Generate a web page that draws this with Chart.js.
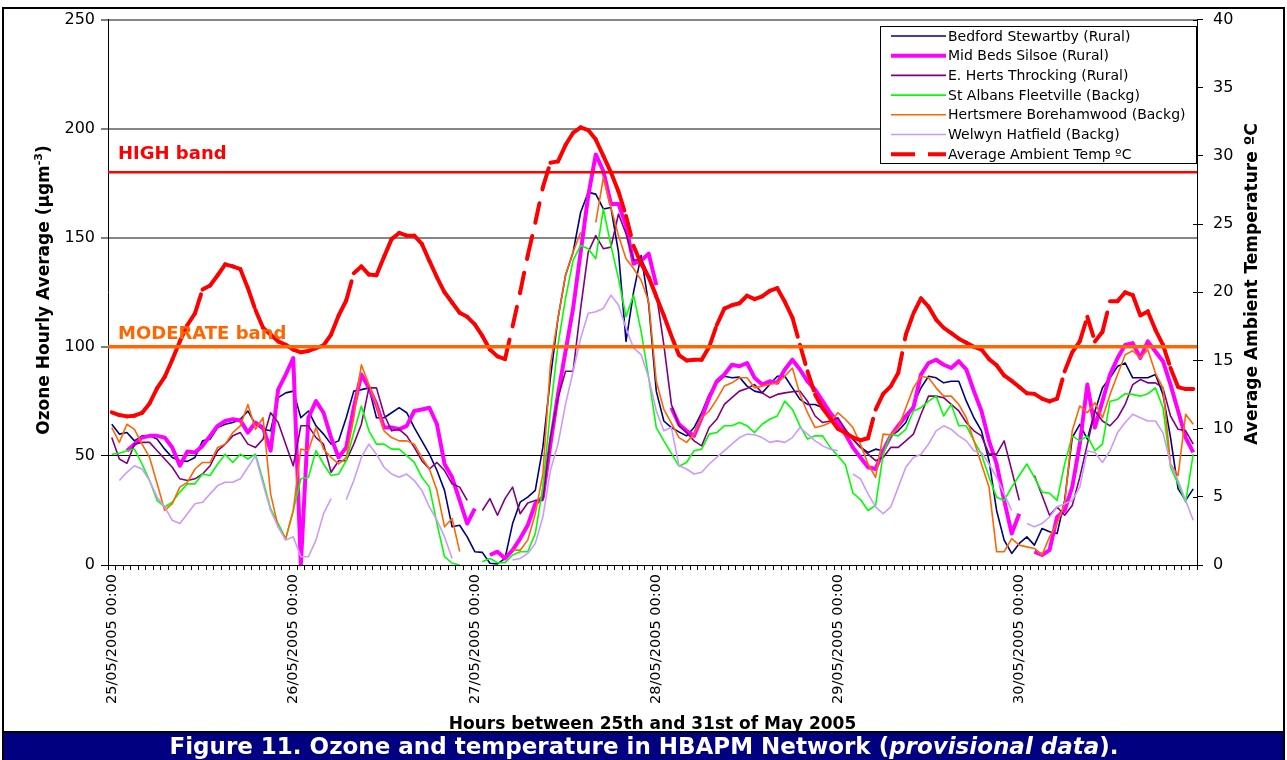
<!DOCTYPE html>
<html>
<head>
<meta charset="utf-8">
<script src="https://cdn.jsdelivr.net/npm/chart.js@4.4.1/dist/chart.umd.min.js"></script>
<style>
  html, body { margin: 0; padding: 0; background: #fff; overflow: hidden; }
  canvas { display: block; }
</style>
</head>
<body>
<canvas id="c" width="1287" height="760"></canvas>
<script>
// ---- categories: one per hour, 25/05/2005 00:00 .. 30/05/2005 23:00 ----
const dayLabels = ['25/05/2005', '26/05/2005', '27/05/2005', '28/05/2005', '29/05/2005', '30/05/2005'];
const hourLabels = [];
for (const d of dayLabels) {
  for (let h = 0; h < 24; h++) hourLabels.push(d + ' ' + String(h).padStart(2, '0') + ':00');
}

// ---- ozone hourly averages (ugm-3) ----
const bedford = [
  64.5,60,60.7,56.9,59.2,59.2,57.7,53.1,49.3,47.8,
  47.5,49.3,56.9,57.7,63,64.5,65.3,66.8,70.6,64.5,
  62.2,61.5,76.7,78.9,79.7,67.5,70.6,63.8,60,55.4,
  56.9,67.5,79.7,80.4,81.2,67.5,67.5,69.8,72.1,69.8,
  63,56.9,50.8,43.3,34.2,17.5,18.2,12.9,6.1,5.8,
  0.8,0.5,3,19,28.8,31.1,34.2,53.9,85.8,113,
  132.8,143.4,161.7,170.8,170,163.2,163.9,143.4,102.5,125.2,
  141.9,119.2,79.7,66,63,61,59.2,63,69.8,78.2,
  83.5,86.5,85.8,86.1,82,79.7,78.9,82.7,86.5,86.5,
  81.2,75.9,73.6,73.6,72.1,69.8,65.3,61.5,57.7,54,
  51.6,53.1,52.4,59.2,61.5,65.3,73.6,81.2,86.5,85.8,
  83.5,84.2,84.2,75.1,67.5,61.5,47.8,25,11.4,5.3,
  9.9,12.9,9.1,16.7,15.2,14.4,29.6,58.4,64.5,57.7,
  70.6,81.2,85.8,91.1,92.6,85.8,85.8,85.8,87.3,78.2,
  58.4,34.9,29.6,34.9
];
const midBeds = [
  null,null,52.4,55.4,58.4,59.2,59.2,58.4,53.9,45.5,
  52,51.6,54.6,59.2,63.8,66,66.8,66.3,60.7,65.3,
  63,52.4,80.4,87.3,94.9,0,67.5,75.1,69.8,58.4,
  49.3,53.9,72.1,87.3,81.2,73.6,63,63,62.2,63.8,
  70.6,71.3,72.1,64.5,46.3,40.2,29.6,19,25.8,null,
  4.6,6.1,3,6.8,12.1,18.2,28.1,31.1,55.4,78.2,
  97.9,117.6,143.4,169.2,188.2,180.6,165.5,165.5,155.6,138.1,
  139.6,142.7,128.3,null,72.1,64.5,61.5,59.2,67.5,76.7,
  84.2,87.3,91.8,91.1,92.6,85.8,82.7,84.2,83.5,89.6,
  94.1,89.6,84.2,80.4,75.1,69.8,65.3,60,53.9,49.3,
  44.8,44,52.4,59.2,63.8,68.3,72.1,87.3,92.6,94.1,
  91.8,90.3,93.4,89.6,79.7,70.6,56.9,46.3,29.6,14.4,
  23.5,null,6.1,4.6,6.8,22,25,35.7,55.4,82.7,
  63,75.1,87.3,94.9,100.9,101.7,94.9,102.5,97.9,93.4,
  82.7,70.6,58.4,51.6
];
const eHerts = [
  58.4,48.6,46.6,55.4,56.2,56.2,52.4,48.6,44.8,39.5,
  38.7,39.5,41.7,45.5,52.4,55.4,59.2,60.7,55.4,53.9,
  57.7,69.8,65.3,55.4,45.5,63.8,63.8,58.4,55.4,42.5,
  47.8,47.8,55.4,64.5,81.2,81.2,69.1,61.5,62.2,59.2,
  53.9,47.8,44,47,43.3,37.2,35.7,29.6,null,25,
  30.4,22.8,30.4,35.7,23.5,28.4,29.6,29.6,58.4,76.7,
  88.8,88.8,117.6,143.4,151,145,145.7,160.9,151.8,139.6,
  140.4,132.8,124.5,100.9,73.6,63.8,60.7,56.9,54.6,63,
  66.8,73.6,76.7,79.7,80.9,82.7,78.9,76.7,78.2,78.9,
  79.4,79.7,75.1,68.3,65.3,66,67.5,62.2,57.7,53.9,
  50.8,47.8,49.3,53.9,53.9,56.9,60,69.1,77.4,77.4,
  76.7,73.6,70.6,65.3,61.5,59.2,50.8,50.8,56.9,43.3,
  29.6,null,41,32,22.8,26.6,22.8,27.3,40.2,55.4,
  70.6,66,63.8,67.5,73.6,82.7,85,83.5,83.5,81.2,
  68.3,62.2,61.5,55.4
];
const stAlbans = [
  50.8,51.2,52.4,53.1,46.3,38.7,29.6,26.6,28.8,33.4,
  37.2,37.2,41.7,41,46.3,50.8,47,50.8,48.6,50.8,
  38.7,25.8,19,12.1,25,39.5,40.2,52.4,46.3,41,
  41.7,47.8,60.7,72.9,61.5,55.4,55.4,53.1,53.1,50.1,
  47,40.2,35.7,19,3.8,0.8,0,null,null,1.5,
  3,1.1,1.1,4.6,6.1,6.1,14.4,35.7,70.6,100.9,
  122.2,139.6,146.5,145,140.4,163.2,146.5,131.3,113.8,123.7,
  107,85.8,63,56.9,51.2,45.3,47,52.4,53.1,60,
  60.7,63.8,63.8,65.3,63.8,60.7,64.5,66.8,68.3,75.1,
  71.3,63.8,57.7,59.2,59.2,53.9,50.1,46,33,30,
  25,27.3,50.8,60,59.2,62.2,70.6,72.1,75.1,77.4,
  68.3,73.6,63.8,63.8,56.9,50.8,40.2,31.1,29.6,35.7,
  41,46.3,40.2,33.4,32.9,29.6,46.3,59.2,56.9,59.2,
  52.4,55.4,75.1,75.9,78.5,78.2,77.4,78.5,81.2,72.1,
  44.8,37.2,28.8,50.8
];
const hertsmere = [
  63,56.2,64.5,62.2,55.4,49.3,37.2,25,28.1,35.7,
  37.9,44,47,47,53.9,55.4,60.7,63.8,73.6,62.2,
  67.5,32.6,17.5,12.1,25,53.1,52.4,63,53.1,49.3,
  46.3,49.3,67.5,91.8,82.7,73.6,61.5,58.4,56.9,56.9,
  55.4,49.3,44,34.2,17.5,21.3,6.1,null,null,null,
  null,null,null,6.8,6.8,11.4,23.5,41.7,91.8,113,
  132.8,143.4,152.5,null,157.1,177.6,163.9,151,140.4,135.9,
  130.5,120.7,84.2,71.3,65,58.4,56.2,60,67.5,70.6,
  75.9,82,83.5,85.8,85.8,81.2,82,82.7,83.5,86.5,
  90.3,78.2,69.8,63,63.8,65.3,69.8,66.8,63,55.4,
  46.3,40.2,60,59.7,63,72.1,81.2,86.5,85.8,81.2,
  77.4,77.4,73.6,67.5,56.9,46.3,35.7,6.1,6.1,12.1,
  9.1,8.3,7.6,4.6,12.9,19,28.1,61.5,72.9,69.8,
  74.4,67.5,78.2,87.3,96.4,98.2,94.9,98.7,88,81.2,
  46.3,41,69.1,64.5
];
const welwyn = [
  null,38.7,42.5,45.5,44,38.7,31.1,26.6,20.5,19,
  23.5,28.1,28.8,32.6,36.4,37.9,37.9,39.5,44.8,50.1,
  37.2,25,17.5,11.4,12.9,3.8,3.8,11.4,23.5,30.4,
  null,29.9,38.7,49.3,55.4,50.8,44.8,41.7,40.2,41.7,
  38.7,34.2,26.6,20.5,12.9,3,null,null,null,null,
  null,null,null,2.3,3,5.3,9.9,22,43.3,55.4,
  73.6,88.8,104,115.4,116.1,117.6,123.7,119.2,108.5,99.4,
  96.4,85.8,70.6,61.5,63,45.5,44,41.7,42.5,46.3,
  49.3,52.4,55.4,58.4,60,59.7,58.4,56.2,56.9,56.2,
  58.4,63,60,56.9,54.6,53.1,52.4,null,41.7,39.5,
  32.6,26.6,23.5,26.6,35.7,44.8,49.3,50.8,55.4,61.5,
  63.8,62.2,59.2,56.9,52.4,51.6,46.3,40.2,32.6,25,
  null,19,17.5,19,22,26.6,28.1,29.6,35.7,52.4,
  51.6,47,52.4,60.7,65.3,69.1,67.5,66,66,60.7,
  46.3,38.7,29.6,20.5
];

// ---- average ambient temperature (deg C) ----
const temperature = [
  11.2,11.0,10.9,10.95,11.15,11.85,12.97,13.8,15.05,16.4,
  17.6,18.45,20.2,20.5,21.25,22.05,21.9,21.7,20.3,18.7,
  17.4,16.9,16.4,16.15,15.8,15.6,15.7,15.9,16.1,16.9,
  18.3,19.4,21.4,21.9,21.3,21.25,22.6,23.9,24.35,24.15,
  24.15,23.55,22.3,21.1,20.0,19.25,18.5,18.2,17.65,16.8,
  15.8,15.3,15.1,17.5,20.0,22.7,25.1,27.7,29.5,29.6,
  30.8,31.7,32.1,31.9,31.2,30.0,28.8,27.4,25.6,23.4,
  22.1,21.1,19.7,18.3,16.8,15.4,15.0,15.05,15.05,16.0,
  17.6,18.8,19.05,19.2,19.75,19.5,19.7,20.1,20.3,19.3,
  18.15,16.15,14.2,12.5,11.5,10.75,10.0,9.7,9.35,9.15,
  9.3,11.4,12.55,13.1,14.1,16.9,18.45,19.55,18.95,18.0,
  17.4,17.0,16.6,16.3,16.0,15.8,15.1,14.65,13.9,13.5,
  13.05,12.6,12.55,12.2,12.0,12.2,14.2,15.6,16.4,18.2,
  16.4,17.1,19.35,19.35,20.0,19.8,18.3,18.6,17.25,16.15,
  14.45,13.05,12.9,12.9
];

// ---- air quality band thresholds (ugm-3) ----
const HIGH_BAND = 180;
const MODERATE_BAND = 100;

// ---- axis ticks ----
const ozoneTicks = { min: 0, max: 250, step: 50 };
const tempTicks = { min: 0, max: 40, step: 5 };

const FONT = '"DejaVu Sans", Verdana, sans-serif';
Chart.defaults.font.family = FONT;
Chart.defaults.color = '#000';

function ozoneSet(label, data, color, width, order) {
  return { label, data, borderColor: color, backgroundColor: color, borderWidth: width,
           yAxisID: 'y', order, spanGaps: false, pointRadius: 0, tension: 0,
           borderJoinStyle: 'round' };
}

const datasets = [
  ozoneSet('Bedford Stewartby (Rural)', bedford, '#000080', 1.6, 7),
  ozoneSet('Mid Beds Silsoe (Rural)', midBeds, '#FF00FF', 4, 6),
  ozoneSet('E. Herts Throcking (Rural)', eHerts, '#800080', 1.6, 5),
  ozoneSet('St Albans Fleetville (Backg)', stAlbans, '#00FF00', 1.6, 4),
  ozoneSet('Hertsmere Borehamwood (Backg)', hertsmere, '#FF6600', 1.6, 3),
  ozoneSet('Welwyn Hatfield (Backg)', welwyn, '#CC99FF', 1.6, 2),
  {
    label: 'Average Ambient Temp \u00BAC', data: temperature, yAxisID: 'yT', order: 1,
    borderColor: '#FF0000', backgroundColor: '#FF0000', borderWidth: 4,
    borderDash: [20, 14], borderCapStyle: 'round', pointRadius: 0, tension: 0,
    legendDash: [24, 13],
    // each hourly segment starts its own dash pattern
    segment: { borderDashOffset: c => (c.p0DataIndex % 2) * 0.001 }
  }
];

function drawRuns(ctx, runs, cx, y) {
  let total = 0;
  for (const r of runs) { ctx.font = r.font; r.w = ctx.measureText(r.t).width; total += r.w; }
  let x = cx - total / 2;
  ctx.textAlign = 'left';
  for (const r of runs) { ctx.font = r.font; ctx.fillText(r.t, x, y + (r.dy || 0)); x += r.w; }
}

const decor = {
  id: 'decor',
  afterDatasetsDraw(chart) {
    const { ctx, chartArea: a, scales } = chart;
    const y = scales.y;
    const yh = y.getPixelForValue(HIGH_BAND);
    const ym = y.getPixelForValue(MODERATE_BAND);
    ctx.save();
    ctx.lineCap = 'butt';
    ctx.strokeStyle = '#FF0000'; ctx.lineWidth = 2.5;
    ctx.beginPath(); ctx.moveTo(a.left, yh); ctx.lineTo(a.right, yh); ctx.stroke();
    ctx.strokeStyle = '#FF6600'; ctx.lineWidth = 3.5;
    ctx.beginPath(); ctx.moveTo(a.left, ym); ctx.lineTo(a.right, ym); ctx.stroke();
    ctx.font = 'bold 18px ' + FONT;
    ctx.textAlign = 'left'; ctx.textBaseline = 'alphabetic';
    ctx.fillStyle = '#FF0000';
    ctx.fillText('HIGH band', a.left + 10, yh - 13);
    ctx.fillStyle = '#FF6600';
    ctx.fillText('MODERATE band', a.left + 10, ym - 8);
    ctx.restore();
  },
  afterDraw(chart) {
    const { ctx, chartArea: a, scales } = chart;
    ctx.save();

    // inner halves of the temperature axis tick marks
    const yT = scales.yT;
    ctx.strokeStyle = '#000'; ctx.lineWidth = 1;
    for (let v = tempTicks.min; v <= tempTicks.max; v += tempTicks.step) {
      const py = Math.round(yT.getPixelForValue(v)) + 0.5;
      ctx.beginPath(); ctx.moveTo(a.right - 4, py); ctx.lineTo(a.right, py); ctx.stroke();
    }

    // legend
    const lx = 880, ly = 26, lw = 316, lh = 137;
    ctx.fillStyle = '#fff'; ctx.fillRect(lx, ly, lw, lh);
    ctx.strokeStyle = '#000'; ctx.lineWidth = 1;
    ctx.strokeRect(lx + 0.5, ly + 0.5, lw, lh);
    ctx.font = '14px ' + FONT; ctx.textBaseline = 'middle'; ctx.textAlign = 'left';
    chart.data.datasets.forEach((ds, i) => {
      const cy = 36 + i * 19.7;
      ctx.save();
      ctx.beginPath(); ctx.rect(890, cy - 5, 56, 10); ctx.clip();
      ctx.strokeStyle = ds.borderColor; ctx.lineWidth = ds.borderWidth;
      ctx.lineCap = 'butt';
      ctx.setLineDash(ds.legendDash || []);
      ctx.beginPath(); ctx.moveTo(891, cy); ctx.lineTo(946, cy); ctx.stroke();
      ctx.restore();
      ctx.fillStyle = '#000';
      ctx.fillText(ds.label, 948, cy + 1);
    });

    // axis titles
    ctx.fillStyle = '#000'; ctx.textBaseline = 'middle';
    ctx.save();
    ctx.translate(45, 290); ctx.rotate(-Math.PI / 2);
    drawRuns(ctx, [
      { t: 'Ozone Hourly Average (\u00B5gm', font: 'bold 17px ' + FONT },
      { t: '-3', font: 'bold 11px ' + FONT, dy: -6 },
      { t: ')', font: 'bold 17px ' + FONT }
    ], 0, 0);
    ctx.restore();
    ctx.save();
    ctx.translate(1253, 284); ctx.rotate(-Math.PI / 2);
    drawRuns(ctx, [{ t: 'Average Ambient Temperature \u00BAC', font: 'bold 17px ' + FONT }], 0, 0);
    ctx.restore();
    ctx.textBaseline = 'alphabetic';
    drawRuns(ctx, [{ t: 'Hours between 25th and 31st of May 2005', font: 'bold 17px ' + FONT }],
             (a.left + a.right) / 2, 729);

    // caption banner
    ctx.fillStyle = '#000080';
    ctx.fillRect(3, 733, 1281, 27);
    ctx.strokeStyle = '#000'; ctx.lineWidth = 2;
    ctx.beginPath(); ctx.moveTo(3, 732); ctx.lineTo(1284, 732); ctx.stroke();
    ctx.fillStyle = '#fff'; ctx.textBaseline = 'alphabetic';
    drawRuns(ctx, [
      { t: 'Figure 11. Ozone and temperature in HBAPM Network (', font: 'bold 23px ' + FONT },
      { t: 'provisional data', font: 'italic bold 23px ' + FONT },
      { t: ').', font: 'bold 23px ' + FONT }
    ], 644, 754);

    // outer frame
    ctx.strokeStyle = '#000'; ctx.lineWidth = 2;
    ctx.beginPath();
    ctx.moveTo(3, 760); ctx.lineTo(3, 8); ctx.lineTo(1284, 8); ctx.lineTo(1284, 760);
    ctx.stroke();
    ctx.restore();
  }
};

new Chart(document.getElementById('c'), {
  type: 'line',
  data: { labels: hourLabels, datasets },
  options: {
    responsive: false,
    animation: false,
    events: [],
    layout: { padding: { top: 16, left: 0, right: 0, bottom: 0 } },
    plugins: { legend: { display: false }, tooltip: { enabled: false } },
    elements: { point: { radius: 0 }, line: { tension: 0 } },
    scales: {
      x: {
        type: 'category',
        offset: true,
        grid: { offset: true, drawOnChartArea: false, tickLength: 5, tickColor: '#000', tickWidth: 1 },
        border: { color: '#000', width: 1 },
        ticks: {
          autoSkip: false, minRotation: 90, maxRotation: 90, padding: 4,
          font: { size: 14.5 }, color: '#000',
          callback: (v, i) => (i % 24 === 0 ? hourLabels[i] : '')
        },
        afterFit: s => { s.height = 195; }
      },
      y: {
        position: 'left',
        min: ozoneTicks.min, max: ozoneTicks.max,
        ticks: { stepSize: ozoneTicks.step, padding: 6, font: { size: 16 }, color: '#000' },
        grid: {
          color: c => (c.tick && (c.tick.value === 50 || c.tick.value === 0) ? '#000' : '#868686'),
          lineWidth: c => (c.tick && (c.tick.value === 50 || c.tick.value === 0) ? 1 : 2),
          tickColor: '#000', tickLength: 7, tickWidth: 1
        },
        border: { color: '#000', width: 1 },
        afterFit: s => { s.width = 108; }
      },
      yT: {
        position: 'right',
        min: tempTicks.min, max: tempTicks.max,
        ticks: { stepSize: tempTicks.step, padding: 10, font: { size: 16 }, color: '#000' },
        grid: { drawOnChartArea: false, tickColor: '#000', tickLength: 6, tickWidth: 1 },
        border: { color: '#000', width: 1 },
        afterFit: s => { s.width = 90; }
      }
    }
  },
  plugins: [decor]
});
</script>
</body>
</html>
